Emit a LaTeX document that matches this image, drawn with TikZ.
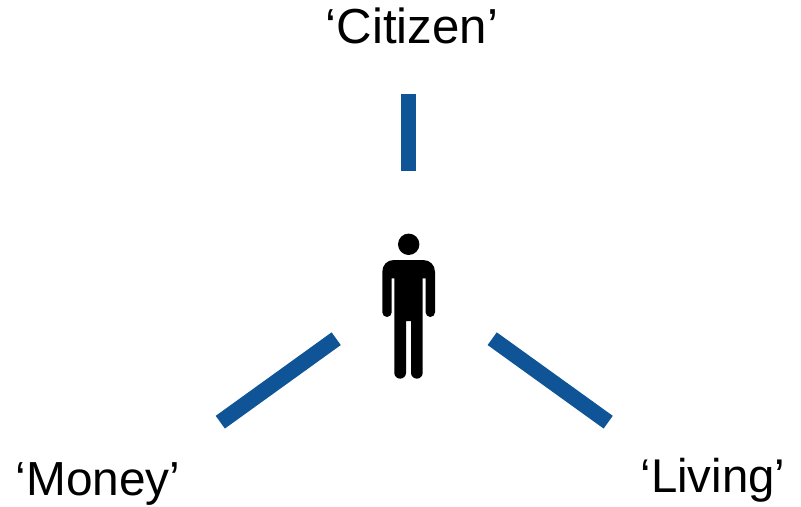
\documentclass[tikz,border=0pt]{standalone}
\usepackage{fontspec}
\setmainfont{Liberation Sans}
\usepackage{xcolor}
\definecolor{barblue}{RGB}{14,84,150}
\usetikzlibrary{positioning}

\begin{document}
\begin{tikzpicture}[
x=0.03cm, y=-0.03cm,
bar/.style={draw=barblue, line width=0.47cm},
wordlabel/.style={font=\fontsize{#1}{50}\selectfont, anchor=base, inner sep=0pt},
figure/.style={fill=black, draw=none}
]
\useasboundingbox (0,0) rectangle (801,507);
\node[wordlabel=42] (citizen) at (412,44) {‘Citizen’};
\node[wordlabel=40.8] (money) at (98,495) {‘Money’};
\node[wordlabel=40.4] (living) at (713,492) {‘Living’};
\coordinate (citizenA) at (408.5,94);
\coordinate (citizenB) at (408.5,171);
\coordinate (moneyA) at (336.2,338.7);
\coordinate (moneyB) at (220.3,422.2);
\coordinate (livingA) at (492.2,338.7);
\coordinate (livingB) at (608.2,422.2);
\draw[bar] (citizenA) -- (citizenB);
\draw[bar] (moneyA) -- (moneyB);
\draw[bar] (livingA) -- (livingB);
\fill[figure] (408.7,244.3) circle (10.7);
\fill[figure] (394,260) -- (423,260)
  .. controls (430,260) and (435,265) .. (435,272)
  -- (435,312.3) arc[start angle=0, end angle=180, radius=4.7]
  -- (425.6,278.3) -- (422.7,278.3) -- (422.7,372.8)
  arc[start angle=0, end angle=180, radius=5.85]
  -- (411,321) -- (406,321) -- (406,372.8)
  arc[start angle=0, end angle=180, radius=5.85]
  -- (394.3,278.3) -- (391.7,278.3) -- (391.7,312.3)
  arc[start angle=0, end angle=180, radius=4.7]
  -- (382.3,272) .. controls (382.3,265) and (387,260) .. (394,260) -- cycle;
\end{tikzpicture}
\end{document}
